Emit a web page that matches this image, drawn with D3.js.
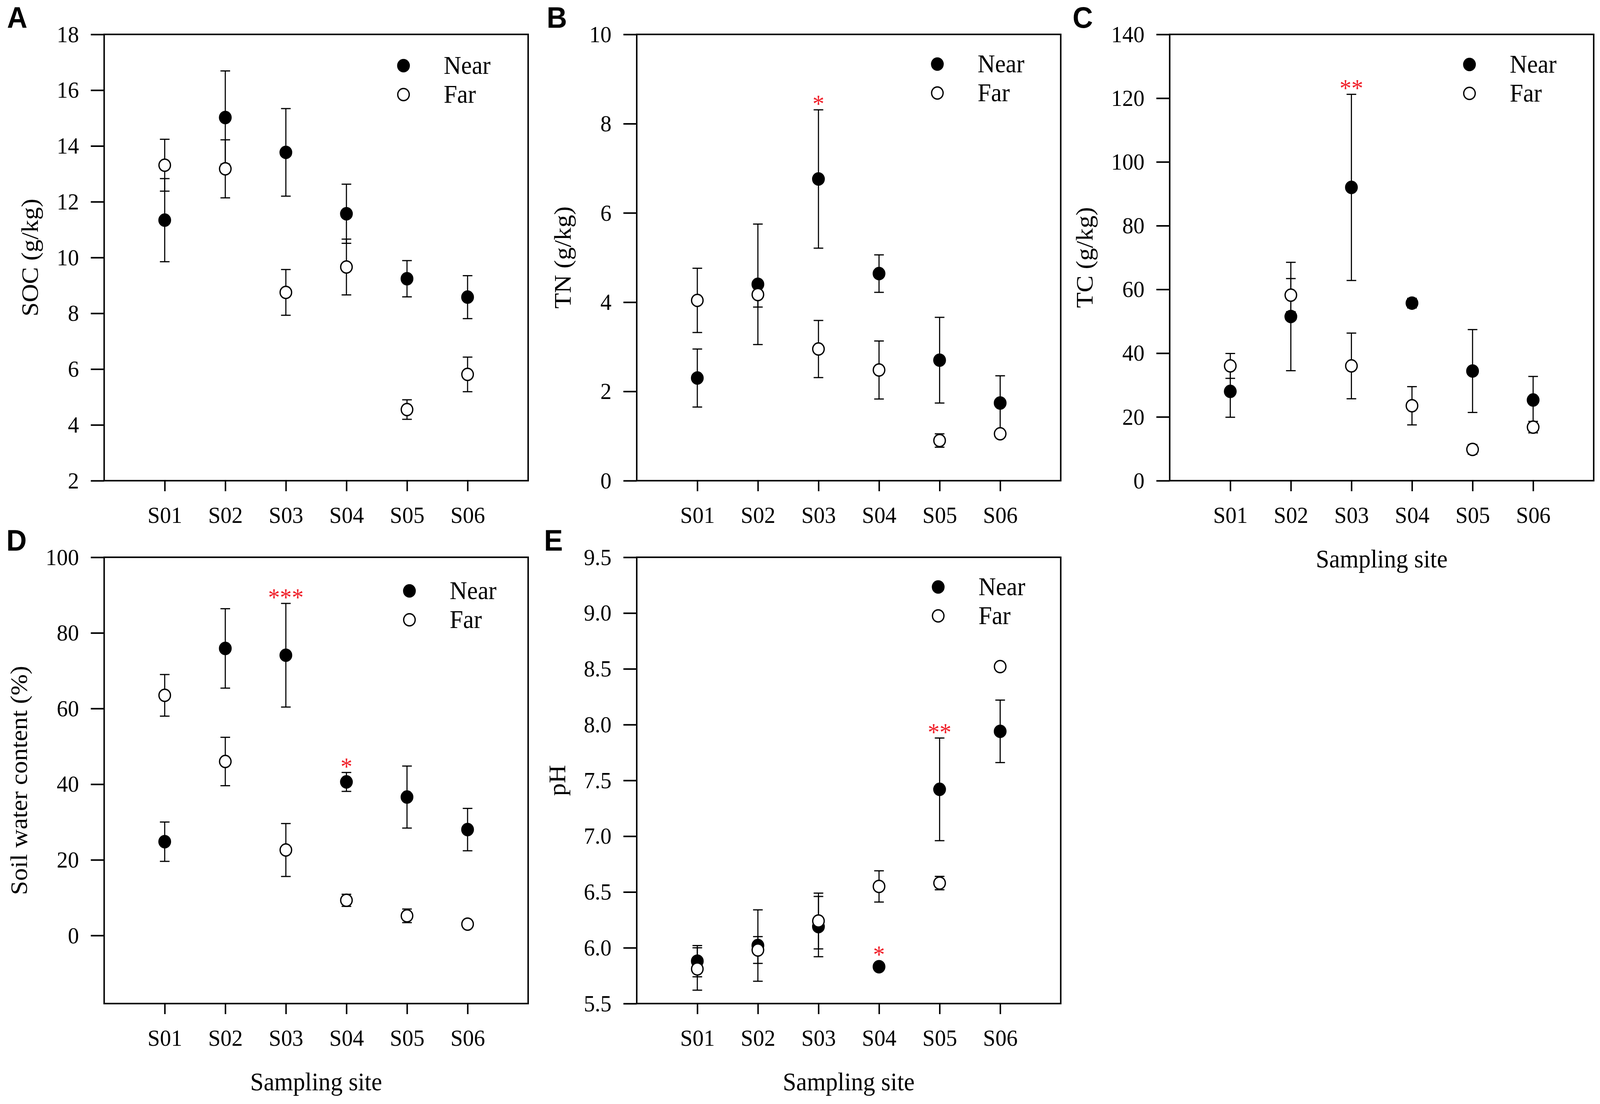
<!DOCTYPE html>
<html>
<head>
<meta charset="utf-8">
<script src="https://cdn.jsdelivr.net/npm/d3@7"></script>
<style>
  html, body { margin: 0; padding: 0; background: #fff; overflow: hidden; }
  svg { display: block; }
</style>
</head>
<body>
<script>
// sampling sites on the x axis
const sites = ['S01', 'S02', 'S03', 'S04', 'S05', 'S06'];

// A - SOC (g/kg)
const socRange = [2, 18];
const socTicks = [2, 4, 6, 8, 10, 12, 14, 16, 18];
const socNear = [11.34, 15.02, 13.77, 11.57, 9.24, 8.58];
const socNearSd = [1.49, 1.67, 1.57, 1.06, 0.65, 0.77];
const socFar = [13.31, 13.18, 8.75, 9.66, 4.55, 5.81];
const socFarSd = [0.93, 1.04, 0.82, 1.0, 0.35, 0.62];
const socSig = ['', '', '', '', '', ''];

// B - TN (g/kg)
const tnRange = [0, 10];
const tnTicks = [0, 2, 4, 6, 8, 10];
const tnNear = [2.30, 4.40, 6.76, 4.64, 2.70, 1.74];
const tnNearSd = [0.65, 1.35, 1.55, 0.42, 0.96, 0.61];
const tnFar = [4.04, 4.17, 2.95, 2.48, 0.90, 1.05];
const tnFarSd = [0.72, 0.28, 0.64, 0.65, 0.15, 0.05];
const tnSig = ['', '', '*', '', '', ''];

// C - TC (g/kg)
const tcRange = [0, 140];
const tcTicks = [0, 20, 40, 60, 80, 100, 120, 140];
const tcNear = [28.0, 51.5, 92.0, 55.7, 34.4, 25.3];
const tcNearSd = [8.1, 17.0, 29.2, 1.5, 13.0, 7.4];
const tcFar = [36.0, 58.2, 36.0, 23.5, 9.8, 16.8];
const tcFarSd = [3.9, 5.2, 10.3, 6.0, 1.5, 1.8];
const tcSig = ['', '', '**', '', '', ''];

// D - Soil water content (%)
const swcRange = [-18, 100];
const swcTicks = [0, 20, 40, 60, 80, 100];
const swcNear = [24.8, 75.9, 74.1, 40.6, 36.6, 28.0];
const swcNearSd = [5.2, 10.5, 13.7, 2.5, 8.2, 5.6];
const swcFar = [63.5, 46.0, 22.6, 9.3, 5.2, 3.0];
const swcFarSd = [5.5, 6.4, 7.0, 1.6, 1.8, 0.5];
const swcSig = ['', '', '***', '*', '', ''];

// E - pH
const phRange = [5.5, 9.5];
const phTicks = [5.5, 6.0, 6.5, 7.0, 7.5, 8.0, 8.5, 9.0, 9.5];
const phNear = [5.88, 6.02, 6.19, 5.83, 7.42, 7.94];
const phNearSd = [0.14, 0.32, 0.27, 0.02, 0.46, 0.28];
const phFar = [5.81, 5.98, 6.24, 6.55, 6.58, 8.52];
const phFarSd = [0.19, 0.12, 0.25, 0.14, 0.06, 0.02];
const phSig = ['', '', '', '*', '**', ''];

const seriesNames = ['Near', 'Far'];

// layout
const W = 4317, H = 2825;
const PW = 1144, PH = 1142;
const colX = [281, 1718, 3156];
const rowY = [88, 1426];
const SERIF = '"Liberation Serif", "Times New Roman", serif';
const SANS = '"Liberation Sans", Arial, sans-serif';
const R = 15.5;
const CAP = 13;
const RED = '#f0202a';

const panels = [
    { id: 'A', col: 0, row: 0, title: 'SOC (g/kg)', range: socRange, ticks: socTicks, fmt: d3.format('d'),
      near: socNear, nearSd: socNearSd, far: socFar, farSd: socFarSd, sig: socSig, xTitle: false,
      legend: [0.706, 0.801, 80], letterDx: -262 },
    { id: 'B', col: 1, row: 0, title: 'TN (g/kg)', range: tnRange, ticks: tnTicks, fmt: d3.format('d'),
      near: tnNear, nearSd: tnNearSd, far: tnFar, farSd: tnFarSd, sig: tnSig, xTitle: false,
      legend: [0.709, 0.804, 76], letterDx: -243 },
    { id: 'C', col: 2, row: 0, title: 'TC (g/kg)', range: tcRange, ticks: tcTicks, fmt: d3.format('d'),
      near: tcNear, nearSd: tcNearSd, far: tcFar, farSd: tcFarSd, sig: tcSig, xTitle: true,
      legend: [0.707, 0.802, 77], letterDx: -262 },
    { id: 'D', col: 0, row: 1, title: 'Soil water content (%)', range: swcRange, ticks: swcTicks, fmt: d3.format('d'),
      near: swcNear, nearSd: swcNearSd, far: swcFar, farSd: swcFarSd, sig: swcSig, xTitle: true,
      legend: [0.72, 0.815, 86], letterDx: -264 },
    { id: 'E', col: 1, row: 1, title: 'pH', range: phRange, ticks: phTicks, fmt: d3.format('.1f'),
      near: phNear, nearSd: phNearSd, far: phFar, farSd: phFarSd, sig: phSig, xTitle: true,
      legend: [0.711, 0.806, 76], letterDx: -250 }
];

// the drawing is laid out on a 4317 x 2825 grid and stretched to whatever the window gives
const svg = d3.select('body').append('svg')
    .attr('viewBox', `0 0 ${W} ${H}`)
    .attr('preserveAspectRatio', 'none')
    .style('width', '100vw')
    .style('height', '100vh');

svg.append('rect').attr('width', W).attr('height', H).attr('fill', '#fff');

panels.forEach(p => {
    const g = svg.append('g')
        .attr('transform', `translate(${colX[p.col]}, ${rowY[p.row]})`);

    const x = d3.scalePoint()
        .domain(sites)
        .range([0, PW])
        .padding(1);

    const y = d3.scaleLinear()
        .domain(p.range)
        .range([PH, 0]);

    // y axis
    const ya = g.append('g')
        .call(d3.axisLeft(y).tickValues(p.ticks).tickFormat(p.fmt).tickSize(36).tickPadding(32));
    ya.select('.domain').remove();
    ya.selectAll('line').attr('stroke', '#000').attr('stroke-width', 4);
    ya.selectAll('text')
        .attr('font-family', SERIF)
        .attr('font-size', 60)
        .attr('fill', '#000');

    // x axis
    const xa = g.append('g')
        .attr('transform', `translate(0, ${PH})`)
        .call(d3.axisBottom(x).tickSize(27).tickPadding(38));
    xa.select('.domain').remove();
    xa.selectAll('line').attr('stroke', '#000').attr('stroke-width', 4);
    xa.selectAll('text')
        .attr('font-family', SERIF)
        .attr('font-size', 60)
        .attr('fill', '#000');

    // frame
    g.append('rect')
        .attr('width', PW)
        .attr('height', PH)
        .attr('fill', 'none')
        .attr('stroke', '#000')
        .attr('stroke-width', 4);

    // y title, placed left of the widest tick label
    const bb = ya.node().getBBox();
    g.append('text')
        .attr('transform', `translate(${bb.x - 72}, ${PH / 2}) rotate(-90)`)
        .attr('text-anchor', 'middle')
        .attr('dominant-baseline', 'central')
        .attr('font-family', SERIF)
        .attr('font-size', 65)
        .text(p.title);

    if (p.xTitle) {
        g.append('text')
            .attr('x', PW / 2)
            .attr('y', PH + 222)
            .attr('text-anchor', 'middle')
            .attr('font-family', SERIF)
            .attr('font-size', 65)
            .text('Sampling site');
    }

    // panel letter
    g.append('text')
        .attr('x', p.letterDx)
        .attr('y', -17)
        .attr('font-family', SANS)
        .attr('font-weight', 'bold')
        .attr('font-size', 76)
        .text(p.id);

    const series = [
        { vals: p.near, sd: p.nearSd, fill: '#000' },
        { vals: p.far, sd: p.farSd, fill: '#fff' }
    ];

    // error bars first, markers on top
    series.forEach(s => {
        const eb = g.append('g')
            .selectAll('g')
            .data(sites)
            .enter()
            .append('g')
            .attr('stroke', '#000')
            .attr('stroke-width', 3);
        eb.append('line')
            .attr('x1', d => x(d)).attr('x2', d => x(d))
            .attr('y1', (d, i) => y(s.vals[i] + s.sd[i]))
            .attr('y2', (d, i) => y(s.vals[i] - s.sd[i]));
        eb.append('line')
            .attr('x1', d => x(d) - CAP).attr('x2', d => x(d) + CAP)
            .attr('y1', (d, i) => y(s.vals[i] + s.sd[i]))
            .attr('y2', (d, i) => y(s.vals[i] + s.sd[i]));
        eb.append('line')
            .attr('x1', d => x(d) - CAP).attr('x2', d => x(d) + CAP)
            .attr('y1', (d, i) => y(s.vals[i] - s.sd[i]))
            .attr('y2', (d, i) => y(s.vals[i] - s.sd[i]));
    });

    series.forEach(s => {
        g.append('g')
            .selectAll('circle')
            .data(sites)
            .enter()
            .append('circle')
            .attr('cx', d => x(d))
            .attr('cy', (d, i) => y(s.vals[i]))
            .attr('r', R)
            .attr('fill', s.fill)
            .attr('stroke', '#000')
            .attr('stroke-width', 3.5);
    });

    // significance stars above the Near bar
    g.append('g')
        .selectAll('text')
        .data(sites)
        .enter()
        .append('text')
        .attr('x', d => x(d))
        .attr('y', (d, i) => Math.min(y(p.near[i] + p.nearSd[i]), y(p.near[i]) - R) + 6)
        .attr('text-anchor', 'middle')
        .attr('font-family', SERIF)
        .attr('font-size', 64)
        .attr('fill', RED)
        .text((d, i) => p.sig[i]);

    // legend
    const lg = g.append('g');
    seriesNames.forEach((name, k) => {
        const ly = p.legend[2] + k * 74;
        lg.append('circle')
            .attr('cx', PW * p.legend[0])
            .attr('cy', ly)
            .attr('r', R)
            .attr('fill', series[k].fill)
            .attr('stroke', '#000')
            .attr('stroke-width', 3.5);
        lg.append('text')
            .attr('x', PW * p.legend[1])
            .attr('y', ly)
            .attr('dy', '0.33em')
            .attr('font-family', SERIF)
            .attr('font-size', 65)
            .text(name);
    });
});
</script>
</body>
</html>
